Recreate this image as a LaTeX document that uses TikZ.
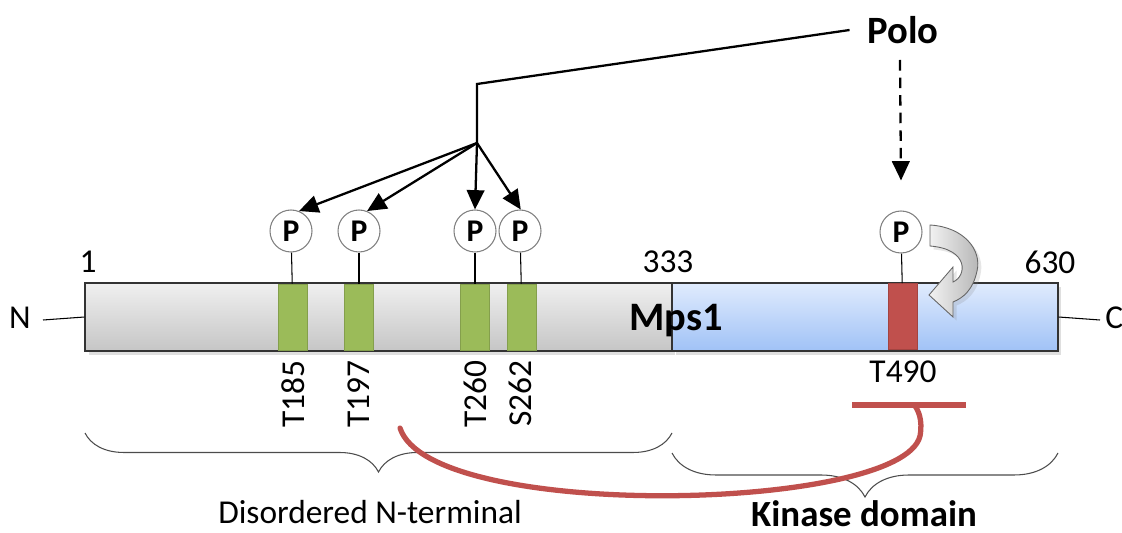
\documentclass[tikz,border=0pt]{standalone}
\usepackage{fontspec}
\setmainfont{Carlito}
\usetikzlibrary{positioning}
\usetikzlibrary{arrows.meta,decorations.pathreplacing,shadows}

\definecolor{sitegreen}{RGB}{155,187,89}
\definecolor{sitered}{RGB}{192,80,77}
\definecolor{kinlight}{RGB}{224,235,253}
\definecolor{kindark}{RGB}{160,194,246}

\tikzset{
  lbl/.style={font=\fontsize{19}{22}\selectfont, inner sep=0pt},
  protbar/.style={draw=black!80, line width=0.7pt, minimum height=1.36cm, inner sep=0pt,
    drop shadow={opacity=0.25, shadow xshift=2pt, shadow yshift=-2pt}},
  site/.style={draw=#1!85!black, fill=#1, line width=0.4pt, minimum width=0.58cm, minimum height=1.32cm, inner sep=0pt},
  phos/.style={circle, draw=gray, fill=white, line width=0.6pt, minimum size=0.84cm, inner sep=0pt,
    font=\fontsize{18}{20}\selectfont\bfseries},
  stem/.style={line width=0.6pt},
  kin/.style={-{Triangle[width=10pt,length=11pt]}, line width=1.3pt},
  brc/.style={decorate, draw=black!70, line width=0.6pt}
}

\begin{document}
\begin{tikzpicture}[x=0.02cm, y=-0.02cm]
 \useasboundingbox (0,0) rectangle (1122,533);

 % protein bar
 \node[protbar, minimum width=11.74cm, top color=gray!12, bottom color=gray!45] (ndom) at (378.5,317) {};
 \node[protbar, minimum width=7.72cm, top color=kinlight, bottom color=kindark] (kdom) at (865,317) {};
 \node[lbl, font=\fontsize{23}{26}\selectfont\bfseries] (mps) at (676,321) {Mps1};

 \node[lbl] (nterm) at (20,318) {N};
 \node[lbl, anchor=west] (cterm) at (1105,318) {C};
 \draw[stem] (43,320) -- (ndom.west);
 \draw[stem] (kdom.east) -- (1100,320);

 \node[lbl] (r1) at (88,262) {1};
 \node[lbl] (r333) at (668,262) {333};
 \node[lbl] (r630) at (1050,262) {630};

 % sites
 \node[site=sitegreen] (b185) at (293,317) {};
 \node[site=sitegreen] (b197) at (359,317) {};
 \node[site=sitegreen] (b260) at (475,317) {};
 \node[site=sitegreen] (b262) at (522,317) {};
 \node[site=sitered]   (b490) at (903,316.5) {};

 \node[phos] (p185) at (291,231) {P};
 \node[phos] (p197) at (359,231) {P};
 \node[phos] (p260) at (475,231) {P};
 \node[phos] (p262) at (520,231) {P};
 \node[phos] (p490) at (901,232) {P};

 \draw[stem] (p185) -- (b185);
 \draw[stem] (p197) -- (b197);
 \draw[stem] (p260) -- (b260);
 \draw[stem] (p262) -- (b262);
 \draw[stem] (p490) -- (b490);

 \node[lbl, rotate=90, anchor=east] (t185) at (293,360) {T185};
 \node[lbl, rotate=90, anchor=east] (t197) at (359,360) {T197};
 \node[lbl, rotate=90, anchor=east] (t260) at (475,360) {T260};
 \node[lbl, rotate=90, anchor=east] (s262) at (520,360) {S262};
 \node[lbl] (t490) at (903,372) {T490};

 % Polo
 \node[lbl, font=\fontsize{22}{26}\selectfont\bfseries] (polo) at (903,30) {Polo};
 \coordinate (bend) at (477,84);
 \coordinate (fork) at (477,143);
 \coordinate (dtop) at (900,60);
 \draw[line width=1.3pt] ([xshift=-10pt,yshift=0pt]polo.west) -- (bend) -- (fork);
 \draw[kin] (fork) -- (p185.68);
 \draw[kin] (fork) -- (p197.68);
 \draw[kin] (fork) -- (p260.north);
 \draw[kin] (fork) -- (p262.88);
 \draw[kin, dash pattern=on 6pt off 4pt] (dtop) -- ([yshift=0.6cm]p490.north);

 % autophosphorylation arrow
 \draw[draw=gray!80!black, line width=0.5pt, left color=gray!10, right color=gray!60,
   drop shadow={opacity=0.2, shadow xshift=2pt, shadow yshift=-2pt}]
   (930,225) .. controls (964,227) and (982,250) .. (977,271)
   .. controls (973,290) and (963,298) .. (953,302) -- (953,317) -- (929,295) -- (953,267)
   -- (953,282) .. controls (967,276) and (969,249) .. (930,246) -- cycle;

 % braces
 \draw[brc, decoration={brace, mirror, amplitude=0.78cm}] (85,433) -- (672,433);
 \draw[brc, decoration={brace, mirror, amplitude=0.88cm}] (672,453) -- (1058,453);
 \node[lbl] (dis) at (370,512) {Disordered N-terminal};
 \node[lbl, font=\fontsize{21}{24}\selectfont\bfseries] (kinase) at (864,514) {Kinase domain};

 % inhibition
 \draw[sitered, line width=3pt, line cap=round]
   (400,428) .. controls (430,522) and (902,512) .. (920,436)
   .. controls (923,420) and (918,410) .. (915,406);
 \draw[sitered, line width=3pt] (852,405) -- (966,405);
\end{tikzpicture}
\end{document}
